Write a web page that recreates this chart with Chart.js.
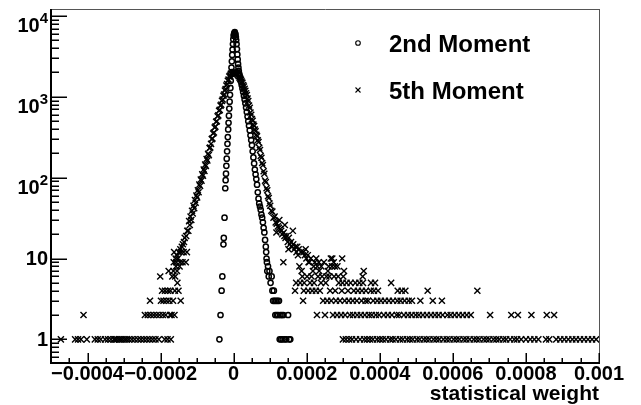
<!DOCTYPE html>
<html><head><meta charset="utf-8">
<script src="https://cdn.jsdelivr.net/npm/chart.js"></script>
<style>html,body{margin:0;padding:0;background:#fff;}canvas{display:block;}</style>
</head><body>
<canvas id="c" width="641" height="405"></canvas>
<script>
const FONT = '"Liberation Sans", Arial, Helvetica, sans-serif';
const seriesNames = ['2nd Moment', '5th Moment'];
// x values are in units of 1e-6 (statistical weight)
const xTickValues = [-400, -200, 0, 200, 400, 600, 800, 1000];
const xTickLabels = ['\u22120.0004', '\u22120.0002', '0', '0.0002', '0.0004', '0.0006', '0.0008', '0.001'];
const yTickValues = [1, 10, 100, 1000, 10000];
const yTickBase = ['1', '10', '10', '10', '10'];
const yTickExp = ['', '', '2', '3', '4'];
const xAxisTitle = 'statistical weight';

// [weight (1e-6), entries]
const moment2Points = [
[-39,1],[-36,2],[-33,4],[-31,6],[-28,15],[-27,18],[-25,32],[-23,74],[-22,93],[-21,112],[-20,140],[-19,172],[-18,212],[-17,262],[-16,318],[-15,395],[-14,478],[-13,585],[-12,715],[-11,870],[-10,1060],[-9,1290],[-8,1580],[-7,1900],[-6,2300],[-5,2750],[-4,3300],[-3,3850],[-2,4500],[-1,5150],[0,5700],[1,5950],[2,6150],[3,6300],[4,6100],[5,5900],[6,5500],[7,5050],[8,4500],[9,3900],[10,3350],[11,2900],[12,2550],[13,2300],[14,2100],[15,1950],[16,1850],[18,1700],[20,1550],[22,1400],[24,1270],[26,1150],[28,1030],[30,930],[32,830],[34,740],[36,650],[38,570],[40,500],[42,440],[44,385],[46,335],[48,292],[50,252],[52,212],[54,178],[56,150],[58,126],[60,110],[62,96],[64,82],[66,66],[68,55],[70,48],[72,44],[74,40],[76,35],[78,32],[80,28],[82,24],[84,21],[86,17],[88,14],[89,12],[90,10],[91,9],[92,7],[94,8],[96,6],[98,7],[101,5],[104,6],[106,4],[108,3],[110,4],[112,3],[114,2],[116,3],[118,2],[120,3],[122,2],[124,3],[126,1],[128,2],[130,1],[132,2],[134,1],[136,2],[140,1],[144,1],[149,2],[152,1],[155,1]
];

const moment5Points = [
[-473,1],[-434,1],[-426,1],[-418,1],[-411,2],[-402,1],[-380,1],[-372,1],[-364,1],[-352,1],[-344,1],[-336,1],[-328,1],[-325,1],[-320,1],[-314,1],[-309,1],[-304,1],[-298,1],[-293,1],[-287,1],[-279,1],[-271,1],[-262,1],[-254,1],[-246,1],[-243,2],[-238,1],[-235,2],[-230,1],[-229,3],[-227,2],[-222,1],[-219,2],[-214,1],[-211,2],[-205,1],[-203,2],[-201,6],[-199,3],[-196,4],[-194,2],[-192,3],[-189,1],[-188,4],[-186,2],[-184,3],[-181,1],[-180,4],[-178,7],[-176,3],[-174,2],[-173,4],[-172,1],[-170,2],[-168,6],[-166,3],[-165,7],[-164,9],[-163,12],[-162,2],[-161,4],[-160,6],[-159,10],[-158,8],[-157,9],[-156,11],[-155,7],[-154,5],[-153,10],[-151,4],[-150,12],[-148,8],[-147,9],[-146,13],[-145,3],[-144,12],[-142,14],[-140,9],[-139,15],[-137,12],[-136,16],[-134,18],[-131,9],[-130,19],[-128,12],[-127,22],
[-124,22],[-122,29],[-120,26],[-118,33],[-116,30],[-114,39],[-112,36],[-110,45],[-108,42],[-106,53],[-104,49],[-102,60],[-100,57],[-98,70],[-96,66],[-94,82],[-92,79],[-90,95],[-88,92],[-86,110],[-84,106],[-82,126],[-80,121],[-78,145],[-76,140],[-74,170],[-72,163],[-70,198],[-68,190],[-66,232],[-64,236],[-62,262],[-60,300],[-58,305],[-56,352],[-54,362],[-52,418],[-50,428],[-48,492],[-46,500],[-44,574],[-42,590],[-40,672],[-38,690],[-36,778],[-34,800],[-32,892],[-30,925],[-28,1030],[-26,1070],[-24,1200],[-22,1250],[-20,1380],[-18,1440],[-16,1580],[-14,1640],[-12,1780],[-10,1830],[-8,1930],[-6,1940],[-4,2010],[-2,1980],[0,2020],
[2,1970],[4,2030],[6,1990],[8,1940],[10,1910],[12,1850],[14,1800],[16,1730],[18,1680],[20,1630],[22,1550],[24,1490],[26,1400],[28,1340],[30,1260],[32,1190],[34,1110],[36,1050],[38,950],[40,890],[42,780],[44,730],[46,640],[48,600],[50,530],[52,505],[54,455],[56,435],[58,395],[60,375],[62,340],[64,325],[66,290],[68,275],[70,235],[72,220],[74,185],[76,176],[78,152],[80,143],[82,120],[84,112],[86,92],[88,88],[90,74],[92,70],[94,59],[96,56],[98,48],[100,45],[103,39],[106,38],[109,32],[112,33],[115,28],[117,21],[118,27],[121,25],[124,24],[125,30],[127,23],[130,22],[133,20],[136,9],[137,21],[139,19],[140,26],[142,18],[145,19],[148,16],[150,13],[151,18],[154,15],[157,16],[160,14],[162,22],[163,15],[166,13],
[168,4],[169,14],[171,5],[172,12],[174,14],[176,11],[178,13],[180,8],[182,5],[184,12],[186,7],[188,6],[190,3],[191,12],[192,4],[193,5],[195,11],[197,13],[199,10],[201,6],[203,11],[204,4],[205,9],[207,9],[209,5],[211,10],[213,6],[215,4],[217,7],[219,8],[220,5],[222,9],[225,4],[226,10],[228,2],[229,8],[231,6],[233,9],[234,7],[236,4],[239,5],[240,8],[242,6],[245,3],[247,9],[250,2],[252,5],[254,6],[256,3],[258,7],[260,8],[262,6],[264,4],[266,10],[267,3],[269,8],[270,10],[272,2],[274,9],[275,6],[277,8],[278,4],[280,3],[283,2],[284,8],[286,6],[288,5],[291,3],[294,2],[296,4],[297,10],[298,5],[299,1],[300,6],[302,7],[304,3],[305,2],[307,1],[309,5],[313,4],[315,3],[316,1],[318,2],[320,5],[324,1],[326,3],[327,2],[329,4],[333,5],[335,1],[337,3],[338,2],[340,4],[344,5],[346,1],[348,2],[350,3],[351,4],[353,6],[354,5],[356,7],[357,1],[359,2],[361,3],[362,4],
[365,1],[368,3],[370,2],[373,1],[375,4],[376,5],[378,2],[381,1],[382,3],[384,4],[387,5],[389,2],[392,1],[393,3],[395,4],[398,2],[400,1],[403,3],[408,1],[411,2],[414,3],[417,1],[422,2],[425,3],[428,1],[431,5],[433,2],[435,1],[436,3],[444,1],[446,2],[448,3],[449,4],[453,2],[455,1],[457,3],[460,4],[463,1],[466,2],[468,3],[470,4],[474,1],[477,2],[479,3],[482,1],[487,2],[488,3],[490,1],[498,2],[501,1],[507,2],[509,1],[511,3],[518,2],[520,1],[528,1],[529,2],[531,4],[536,1],[540,2],[545,3],[547,1],[551,2],[555,1],[561,2],[563,1],[570,3],[572,2],[574,1],[583,1],[585,2],[591,1],[594,2],[602,1],[605,2],[610,1],[616,2],[618,1],[627,2],[629,1],[637,1],[638,2],[646,1],[649,2],[657,1],[665,1],[667,4],[673,1],[684,1],[692,1],[700,1],[702,2],[711,1],[719,1],[727,1],[738,1],[746,1],[757,1],[760,2],[768,1],[776,1],[778,2],[787,1],[800,1],[812,1],[815,2],[823,1],[834,1],[855,1],[857,2],[864,1],[877,2],[883,1],[894,1],[905,1],[916,1],[927,1],[937,1],[948,1],[959,1],[970,1],[981,1],[992,1]
];

const toXY = pts => pts.map(p => ({x: p[0], y: p[1]}));

function line(ctx, x1, y1, x2, y2) { ctx.beginPath(); ctx.moveTo(x1, y1); ctx.lineTo(x2, y2); ctx.stroke(); }

const rootStyle = {
  id: 'rootStyle',
  beforeDraw(chart) {
    const ctx = chart.ctx;
    ctx.save(); ctx.fillStyle = '#fff'; ctx.fillRect(0, 0, chart.width, chart.height); ctx.restore();
  },
  afterDatasetsDraw(chart) {
    const {ctx, chartArea: a, scales: {x, y}} = chart;
    ctx.save();
    // frame
    ctx.strokeStyle = '#555'; ctx.lineWidth = 1;
    line(ctx, a.left, a.top - 0.5, a.right + 1, a.top - 0.5);
    line(ctx, a.right + 0.5, a.top - 0.5, a.right + 0.5, a.bottom);
    // axes
    ctx.strokeStyle = '#000'; ctx.lineWidth = 2;
    line(ctx, a.left, a.top - 1, a.left, a.bottom + 1);
    line(ctx, a.left - 1, a.bottom, a.right + 1, a.bottom);
    // x ticks
    ctx.lineWidth = 1.5;
    for (let v = -500; v <= 1000; v += 50) {
      if (v === -500) continue;
      const px = Math.round(x.getPixelForValue(v)) + 0.25;
      const major = xTickValues.includes(v);
      line(ctx, px, a.bottom, px, a.bottom - (major ? 10 : 5));
    }
    // y ticks
    for (let d = 0.1; d <= 10000; d *= 10) {
      for (let m = 1; m <= 9; m++) {
        const v = m * d;
        if (v < y.min || v > y.max) continue;
        const py = Math.round(y.getPixelForValue(v)) + 0.25;
        line(ctx, a.left, py, a.left + (m === 1 ? 16 : 8), py);
      }
    }
    // y labels
    ctx.fillStyle = '#000';
    ctx.textAlign = 'right';
    yTickValues.forEach((v, i) => {
      const py = y.getPixelForValue(v);
      if (!yTickExp[i]) {
        ctx.font = 'bold 20px ' + FONT; ctx.textBaseline = 'middle';
        ctx.fillText(yTickBase[i], 48, py + 1);
      } else {
        ctx.textBaseline = 'alphabetic';
        ctx.font = 'bold 15px ' + FONT;
        const ew = ctx.measureText(yTickExp[i]).width;
        ctx.fillText(yTickExp[i], 48, py + 7);
        ctx.font = 'bold 20px ' + FONT;
        ctx.fillText(yTickBase[i], 48 - ew, py + 16);
      }
    });
    // legend
    const ds = chart.data.datasets;
    ctx.textAlign = 'left'; ctx.textBaseline = 'alphabetic';
    ctx.font = 'bold 24px ' + FONT;
    ctx.lineWidth = 1.1;
    ctx.beginPath(); ctx.arc(358, 43, 2.3, 0, Math.PI * 2); ctx.stroke();
    ctx.fillText(ds[0].label, 389, 52);
    line(ctx, 355.5, 87.5, 360.5, 92.5); line(ctx, 355.5, 92.5, 360.5, 87.5);
    ctx.fillText(ds[1].label, 389, 99);
    ctx.restore();
  }
};

new Chart(document.getElementById('c'), {
  type: 'scatter',
  data: {
    datasets: [
      {label: seriesNames[0], data: toXY(moment2Points), pointStyle: 'circle', pointRadius: 2.6, borderColor: '#000', backgroundColor: 'rgba(0,0,0,0)', borderWidth: 1.5},
      {label: seriesNames[1], data: toXY(moment5Points), pointStyle: 'crossRot', pointRadius: 4.3, borderColor: '#000', backgroundColor: '#000', borderWidth: 1.4}
    ]
  },
  options: {
    responsive: false, animation: false, devicePixelRatio: 1,
    layout: {padding: {left: 0, right: 42, top: 10, bottom: 0}},
    plugins: {legend: {display: false}, tooltip: {enabled: false}},
    scales: {
      x: {
        type: 'linear', min: -500, max: 1000,
        grid: {display: false, drawTicks: false}, border: {display: false},
        afterBuildTicks: s => { s.ticks = xTickValues.map(v => ({value: v})); },
        ticks: {color: '#000', font: {family: FONT, size: 20, weight: 'bold', lineHeight: 1}, padding: 1, maxRotation: 0, minRotation: 0, autoSkip: false,
          callback: v => xTickLabels[xTickValues.indexOf(v)]},
        title: {display: true, text: xAxisTitle, align: 'end', color: '#000', font: {family: FONT, size: 21, weight: 'bold', lineHeight: 0.8}, padding: {top: 0, bottom: 2}},
        afterFit: s => { s.height = 42; }
      },
      y: {
        type: 'logarithmic', min: 0.51, max: 11860,
        grid: {display: false, drawTicks: false}, border: {display: false},
        ticks: {display: false},
        afterFit: s => { s.width = 51; }
      }
    }
  },
  plugins: [rootStyle]
});
</script>
</body></html>
